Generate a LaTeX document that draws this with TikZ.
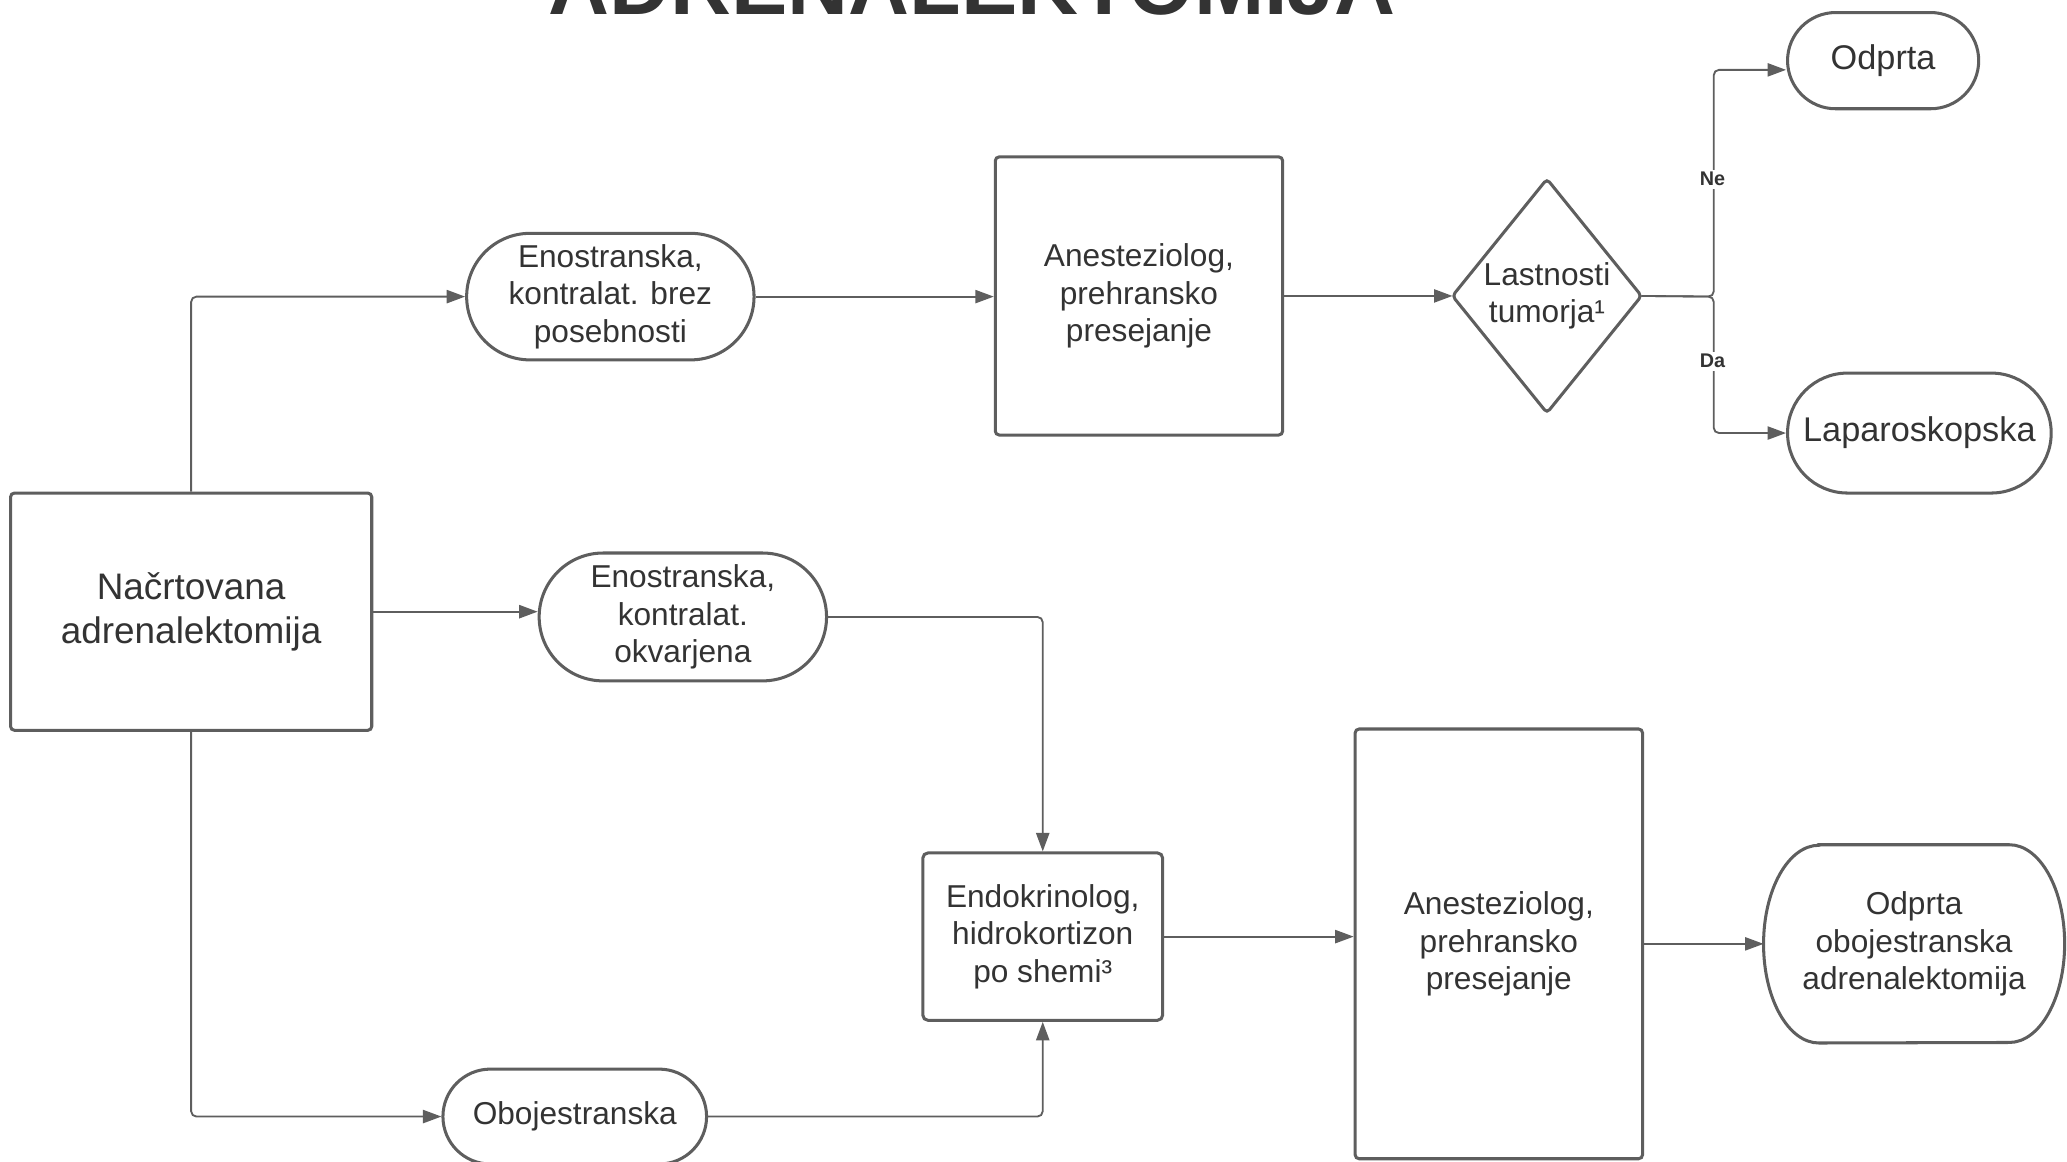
\documentclass[tikz,border=0pt]{standalone}
\usepackage{fontspec}
\setmainfont{Liberation Sans}
\usetikzlibrary{arrows.meta,shapes.misc}
\definecolor{lc}{HTML}{5E5E5E}
\definecolor{tc}{HTML}{333333}
\begin{document}
\begin{tikzpicture}[x=1pt,y=-1pt,
  every node/.style={text=tc, align=center, inner sep=0pt},
  shp/.style={draw=lc, line width=2.3pt},
  boxn/.style={shp, rectangle, rounded corners=3pt},
  pill/.style={shp, rounded rectangle},
  conn/.style={draw=lc, line width=1.4pt, rounded corners=4pt, -{Triangle[length=14pt,width=10pt]}},
  txt/.style={font=\fontsize{24}{28.5}\selectfont},
  bigtxt/.style={font=\fontsize{28}{33}\selectfont},
  lbl/.style={font=\fontsize{15}{18}\selectfont\bfseries, fill=white, inner sep=2pt}
]
\useasboundingbox (0,0) rectangle (1568,881);
\clip (0,0) rectangle (1568,881);

% title
\node[font=\fontsize{64}{70}\selectfont\bfseries, anchor=base] (title) at (737.5,11) {ADRENALEKTOMIJA};

% nodes
\node[boxn, bigtxt, minimum width=274pt, minimum height=180pt] (start) at (145,464) {Načrtovana\\adrenalektomija};
\node[pill, txt, minimum width=218pt, minimum height=96pt] (encA) at (463,225) {Enostranska,\\kontralat. brez\\posebnosti};
\node[boxn, txt, minimum width=218pt, minimum height=211pt] (aneA) at (864,224.5) {Anesteziolog,\\prehransko\\presejanje};
\node[txt, minimum width=143pt, minimum height=177pt] (dia) at (1173.5,224.5) {Lastnosti\\tumorja¹};
\draw[shp, rounded corners=3pt] (dia.north) -- (dia.east) -- (dia.south) -- (dia.west) -- cycle;
\node[pill, font=\fontsize{26}{30}\selectfont, minimum width=145pt, minimum height=73pt] (odp) at (1428.5,46) {Odprta};
\node[pill, font=\fontsize{26}{30}\selectfont, minimum width=200pt, minimum height=91pt] (lap) at (1456,328.5) {Laparoskopska};
\node[pill, txt, minimum width=218pt, minimum height=97pt] (encB) at (518,468) {Enostranska,\\kontralat.\\okvarjena};
\node[boxn, txt, rounded corners=4pt, minimum width=182pt, minimum height=127pt] (endo) at (791,710.5) {Endokrinolog,\\hidrokortizon\\po shemi³};
\node[pill, txt, minimum width=200pt, minimum height=72pt] (obo) at (436,847) {Obojestranska};
\node[boxn, txt, minimum width=218pt, minimum height=326pt] (aneB) at (1137,716) {Anesteziolog,\\prehransko\\presejanje};
\node[txt, minimum width=228pt, minimum height=150pt] (fin) at (1452,716) {Odprta\\obojestranska\\adrenalektomija};
\draw[shp] ([xshift=42pt]fin.north west) -- ([xshift=-42pt]fin.north east)
  arc[start angle=90, end angle=-90, x radius=42pt, y radius=75pt]
  -- ([xshift=42pt]fin.south west)
  arc[start angle=270, end angle=90, x radius=42pt, y radius=75pt] -- cycle;

% connectors
\coordinate (jn) at (1300,225);
\draw[conn] (start.north) |- (encA.west);
\draw[conn] (start.east) -- (start.east -| encB.west);
\draw[conn] (start.south) |- (obo.west);
\draw[conn] (encA.east) -- (encA.east -| aneA.west);
\draw[conn] (aneA.east) -- (aneA.east -| dia.west);
\draw[conn] (dia.east) -- (jn) |- ([yshift=-7pt]odp.west);
\draw[conn] (dia.east) -- (jn) |- (lap.west);
\draw[conn] (encB.east) -| (endo.north);
\draw[conn] (obo.east) -| (endo.south);
\draw[conn] (endo.east) -- (endo.east -| aneB.west);
\draw[conn] (aneB.east) -- (aneB.east -| fin.west);

% labels
\node[lbl] (ne) at (1299,136) {Ne};
\node[lbl] (da) at (1299,274) {Da};
\end{tikzpicture}
\end{document}
